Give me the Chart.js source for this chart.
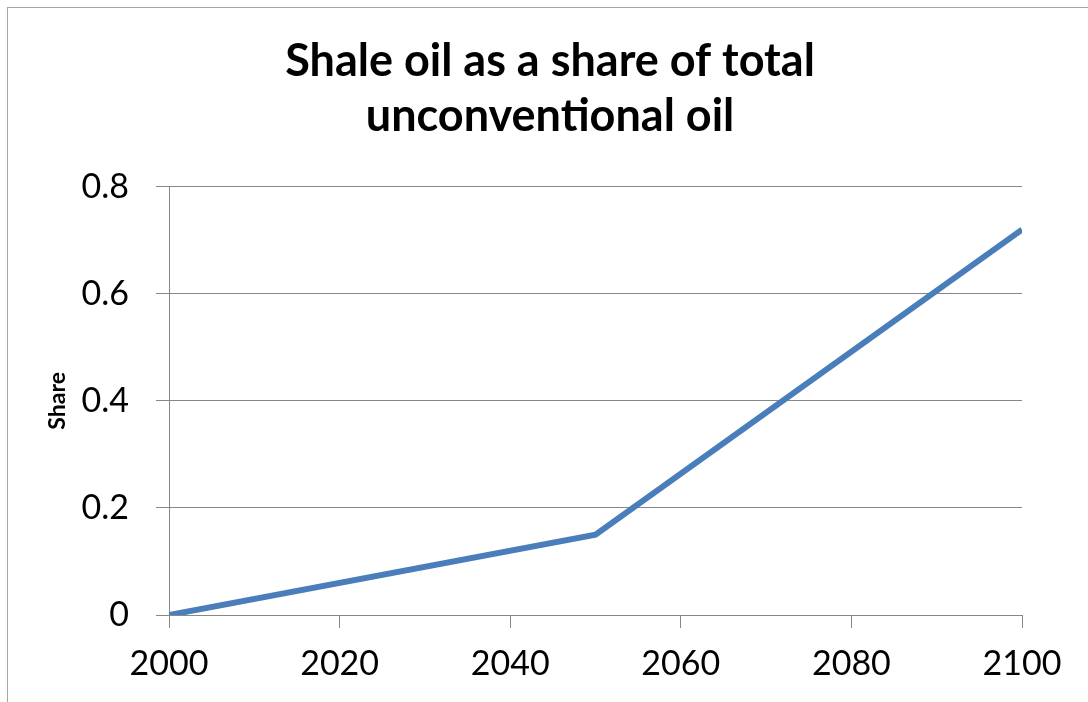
<!DOCTYPE html>
<html>
<head>
<meta charset="utf-8">
<script src="https://cdn.jsdelivr.net/npm/chart.js@4"></script>
<style>
  html, body { margin: 0; padding: 0; background: #fff; }
  #wrap { width: 1088px; height: 702px; }
</style>
</head>
<body>
<div id="wrap"><canvas id="shaleChart" width="1088" height="702"></canvas></div>
<script>
// data
const years = [2000, 2050, 2100];
const shareValues = [0, 0.15, 0.72];
const titleLines = ['Shale oil as a share of total', 'unconventional oil'];
const yAxisLabel = 'Share';
const xMin = 2000, xMax = 2100, xStep = 20;
const yMin = 0, yMax = 0.8, yStep = 0.2;

const FONT = 'Lato, "Open Sans", sans-serif';
const GRID = '#878787';

// light frame round the chart, as in the original export
const framePlugin = {
    id: 'frame',
    beforeDraw(chart) {
        const c = chart.ctx;
        c.save();
        c.fillStyle = '#fff';
        c.fillRect(0, 0, chart.width, chart.height);
        c.strokeStyle = '#a6a6a6';
        c.lineWidth = 1;
        c.strokeRect(7.5, 7.5, chart.width + 20, chart.height + 20);
        c.restore();
    }
};

const ctx = document.getElementById('shaleChart').getContext('2d');
const myChart = new Chart(ctx, {
    type: 'line',
    data: {
        datasets: [{
            label: 'Share',
            data: years.map((y, i) => ({ x: y, y: shareValues[i] })),
            borderColor: '#4a7ebb',
            borderWidth: 6,
            pointRadius: 0,
            tension: 0,
            fill: false,
        }]
    },
    options: {
        responsive: false,
        animation: false,
        layout: { padding: { left: 12, right: 0, top: 0, bottom: 0 } },
        plugins: {
            legend: { display: false },
            tooltip: { enabled: false },
            title: {
                display: true,
                text: titleLines,
                color: '#000',
                font: { family: FONT, size: 45, weight: 'bold', lineHeight: 1.22 },
                padding: { top: 34, bottom: 43 }
            }
        },
        scales: {
            x: {
                type: 'linear',
                min: xMin,
                max: xMax,
                afterFit: s => { s.height = 87; },
                ticks: {
                    stepSize: xStep,
                    color: '#000',
                    font: { family: FONT, size: 34 },
                    padding: 16,
                    maxRotation: 0,
                    callback: v => String(v)
                },
                grid: {
                    drawOnChartArea: false,
                    drawTicks: true,
                    tickLength: 13,
                    color: GRID
                },
                border: { color: GRID, width: 1 }
            },
            y: {
                min: yMin,
                max: yMax,
                afterFit: s => { s.width = 157; },
                ticks: {
                    stepSize: yStep,
                    color: '#000',
                    font: { family: FONT, size: 34 },
                    padding: 27,
                    callback: v => (Math.round(v * 10) / 10).toString()
                },
                grid: {
                    color: GRID,
                    tickLength: 13
                },
                border: { color: GRID, width: 1 },
                title: {
                    display: true,
                    text: yAxisLabel,
                    color: '#000',
                    font: { family: FONT, size: 23, weight: 'bold' },
                    padding: { top: 32, bottom: 0 }
                }
            },
            // empty right-hand axis just to keep the plot's right edge in place
            yRight: {
                position: 'right',
                display: true,
                afterFit: s => { s.width = 66; },
                ticks: { display: false },
                grid: { display: false, drawTicks: false },
                border: { display: false }
            }
        }
    },
    plugins: [framePlugin]
});
</script>
</body>
</html>
